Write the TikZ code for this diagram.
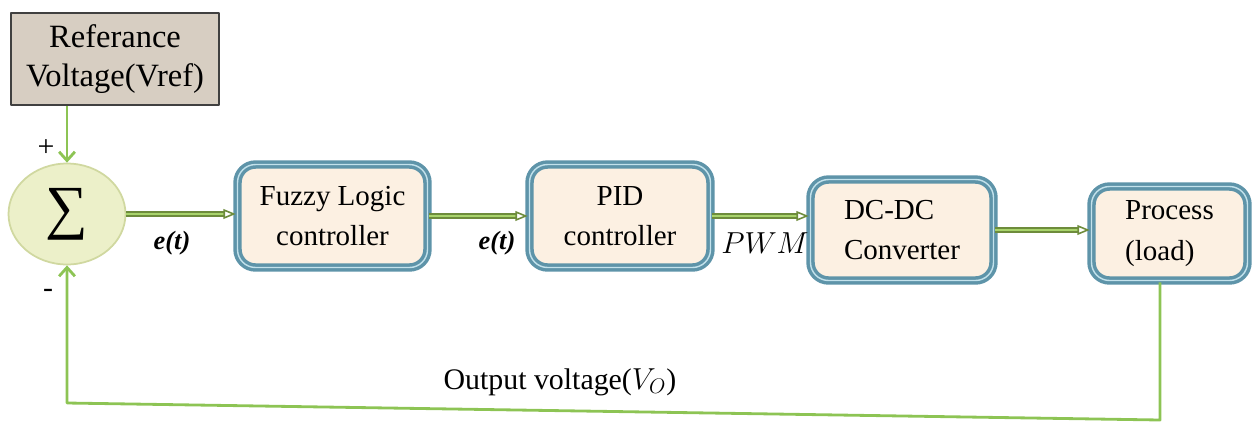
\documentclass[tikz,border=0pt]{standalone}
\usepackage{fontspec}
\setmainfont{Liberation Serif}
\usetikzlibrary{shapes.geometric,arrows.meta}
\definecolor{refgray}{HTML}{D7CEC2}
\definecolor{sumfill}{HTML}{ECF0C9}
\definecolor{sumedge}{HTML}{D0D8A0}
\definecolor{boxedge}{HTML}{5E94A9}
\definecolor{boxline}{HTML}{C3E2EC}
\definecolor{boxfill}{HTML}{FCF0E2}
\definecolor{flowdark}{HTML}{6E8C3C}
\definecolor{flowlight}{HTML}{A9D46C}
\definecolor{fbgreen}{HTML}{8DC454}
\begin{document}
\begin{tikzpicture}[x=0.02cm, y=-0.02cm, line join=round,
	refbox/.style={draw=black!75, line width=1.1pt, fill=refgray, minimum width=4.16cm, minimum height=1.84cm, align=center, font=\fontsize{18.5}{22.7}\selectfont},
	sumnode/.style={ellipse, draw=sumedge, line width=1pt, fill=sumfill, minimum width=2.34cm, minimum height=2.02cm, inner sep=0pt},
	ctrlbox/.style={rounded corners=0.36cm, draw=boxedge, line width=2pt, double=boxline, double distance=0.8pt, fill=boxfill, font=\fontsize{16.5}{23}\selectfont},
	flow/.style={draw=flowdark, line width=0.9pt, double=flowlight, double distance=1.6pt, -{Triangle[open,length=7pt,width=5.5pt]}},
	feedback/.style={draw=fbgreen, line width=1.6pt, -{Straight Barb[length=5pt,width=9pt]}},
	lbl/.style={font=\fontsize{15}{18}\selectfont\bfseries\itshape},
	sign/.style={inner sep=0pt, font=\fontsize{17}{19}\selectfont}]
	\useasboundingbox (0,0) rectangle (1255,434);
	\node[refbox] (vref) at (115,59) {Referance\\Voltage(Vref)};
	\node[sumnode] (sum) at (67,214) {\fontsize{34}{36}\selectfont ∑};
	\node[ctrlbox, align=center, minimum width=3.8cm, minimum height=2.06cm] (flc) at (332.5,216) {Fuzzy Logic\\controller};
	\node[ctrlbox, align=center, minimum width=3.62cm, minimum height=2.06cm] (pid) at (620,216) {PID\\controller};
	\node[ctrlbox, align=left, minimum width=3.66cm, minimum height=2.02cm] (conv) at (902,230) {DC-DC\\Converter};
	\node[ctrlbox, align=left, minimum width=3.12cm, minimum height=1.88cm] (load) at (1169.5,233.5) {Process\\(load)};
	\coordinate (fbr) at (1160,420);
	\coordinate (fbl) at (67,403);
	\draw[feedback] (vref.south -| sum) -- (sum.north);
	\draw[flow] (sum.east) -- (sum.east -| flc.west);
	\draw[flow] (flc.east) -- (pid.west);
	\draw[flow] (pid.east) -- (pid.east -| conv.west);
	\draw[flow] (conv.east) -- (conv.east -| load.west);
	\draw[feedback] (fbr |- load.south) -- (fbr) -- (fbl) -- (sum.south);
	\node[lbl] (e1) at (172,243) {e(t)};
	\node[lbl] (e2) at (497,243) {e(t)};
	\node[font=\fontsize{16}{18}\selectfont] (pwm) at (765,243) {$PWM$};
	\node[sign] (plus) at (46,148) {+};
	\node[sign] (minus) at (48,293) {-};
	\node[font=\fontsize{17}{20}\selectfont] (vout) at (560,382) {Output voltage($V_O$)};
\end{tikzpicture}
\end{document}
